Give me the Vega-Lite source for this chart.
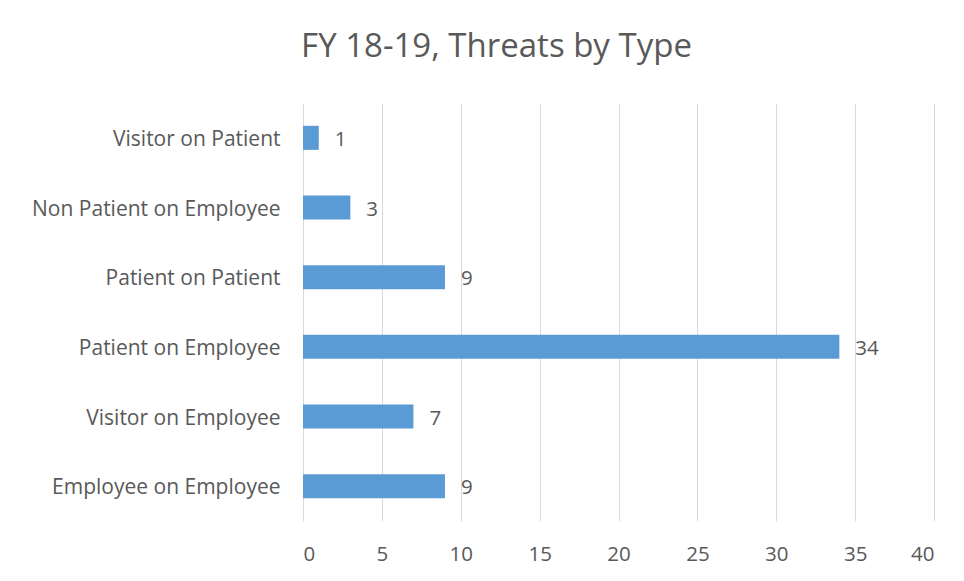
{
  "$schema": "https://vega.github.io/schema/vega-lite/v6.json",
  "autosize": {"type": "none"},
  "padding": {"left": 303, "top": 103, "right": 30, "bottom": 60},
  "width": 631,
  "height": 418,
  "background": "white",
  "title": {
    "text": "FY 18-19,  Threats by Type",
    "font": "Open Sans",
    "fontSize": 33,
    "fontWeight": "normal",
    "color": "#595959",
    "anchor": "middle",
    "baseline": "bottom",
    "offset": 6,
    "dx": -122
  },
  "data": {
    "values": [
      {"type": "Visitor on Patient", "count": 1},
      {"type": "Non Patient on Employee", "count": 3},
      {"type": "Patient on Patient", "count": 9},
      {"type": "Patient on Employee", "count": 34},
      {"type": "Visitor on Employee", "count": 7},
      {"type": "Employee on Employee", "count": 9}
    ]
  },
  "encoding": {
    "y": {
      "field": "type",
      "type": "nominal",
      "sort": null,
      "scale": {"paddingInner": 0.655, "paddingOuter": 0.3275},
      "axis": {
        "title": null,
        "domain": false,
        "ticks": false,
        "labelFont": "Open Sans",
        "labelFontSize": 21,
        "labelColor": "#595959",
        "labelPadding": 23,
        "labelOffset": 2,
        "labelLimit": 300
      }
    },
    "x": {
      "field": "count",
      "type": "quantitative",
      "scale": {"domain": [0, 40], "nice": false},
      "axis": {
        "title": null,
        "values": [0, 5, 10, 15, 20, 25, 30, 35, 40],
        "domain": false,
        "ticks": false,
        "grid": true,
        "gridColor": "#d9d9d9",
        "gridWidth": 1,
        "labelFont": "Open Sans",
        "labelFontSize": 20.5,
        "labelColor": "#595959",
        "labelPadding": 23
      }
    }
  },
  "layer": [
    {"mark": {"type": "bar", "color": "#5b9bd5"}},
    {
      "mark": {
        "type": "text",
        "align": "left",
        "baseline": "middle",
        "dx": 16,
        "dy": 2,
        "font": "Open Sans",
        "fontSize": 20.5,
        "color": "#595959"
      },
      "encoding": {"text": {"field": "count", "type": "quantitative"}}
    }
  ],
  "config": {"view": {"stroke": null}}
}
